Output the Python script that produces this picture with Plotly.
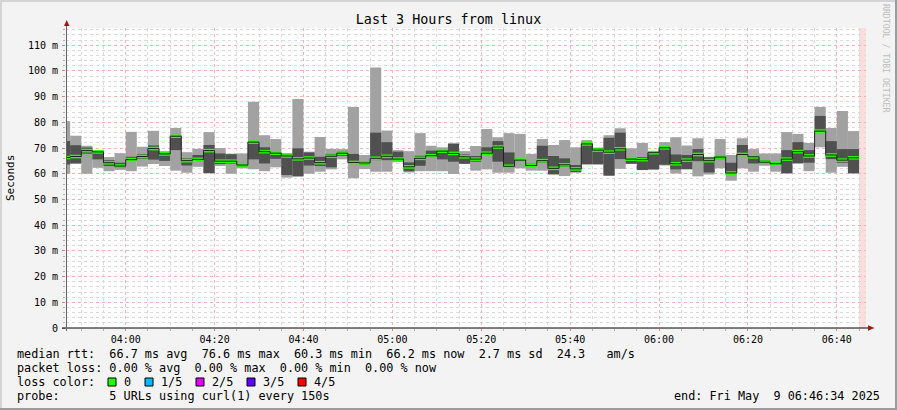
import pandas as pd
import plotly.graph_objects as go

# ---------------- data (ms) ----------------
ping_min = [60, 63.8, 60, 62.3, 61, 61.5, 61, 62.8, 63.8, 63, 61.2, 60.4, 62.7, 60.1, 63, 60, 62.1, 61.8,
            61, 62.5, 58.5, 58.8, 60, 60.8, 61.7, 65.6, 58.3, 61.8, 60.8, 60.8, 64.5, 60.5, 61, 61, 61, 59.9,
            63.8, 61.2, 61.7, 60.4, 60.4, 62.1, 61.2, 61.2, 59.7, 59.1, 60.5, 63.6, 63.6, 59.2, 61.9, 63.8,
            61.4, 61.6, 63.2, 60.1, 61.7, 59, 59.7, 62.1, 57.3, 62.1, 60.8, 63.1, 60.8, 60.1, 64, 61, 70.3,
            60.4, 62.7, 60.1]
ping_p1 = [63.6, 64.1, 67.8, 65.6, 63, 62.2, 65, 65.8, 65.5, 65, 69.2, 63.2, 65.2, 60.3, 63.8, 64, 63.0, 65.6,
           64, 65.8, 59.5, 59.1, 63.2, 63, 62.5, 67, 64, 63.4, 65.3, 65.3, 65.1, 61, 63.1, 66.6, 65.6, 64.7,
           63.9, 64.7, 67.7, 64.7, 62.5, 64.9, 62.7, 64.4, 59.8, 62.7, 60.6, 63.7, 63.7, 59.3, 65.7, 63.9,
           61.5, 61.7, 63.5, 61.7, 61.8, 64.9, 60.5, 65.7, 59.9, 67, 64, 63.8, 63.4, 60.2, 64.1, 64.3, 76.4,
           65.7, 64.3, 60.2]
ping_median = [66.3, 66.7, 69.0, 68.5, 64.3, 63.0, 65.5, 66.7, 69.8, 67.7, 74.6, 65.1, 65.6, 69.0, 64.9, 64.9,
               63.4, 72.3, 68.6, 68.0, 66.9, 65.8, 66.1, 64.3, 66.8, 68.0, 64.4, 64.2, 66.0, 66.8, 65.7, 62.7,
               66.0, 67.0, 68.8, 67.9, 66.6, 65.7, 68.0, 70.4, 62.9, 65.3, 63.2, 65.1, 62.1, 63.5, 61.9, 71.6,
               69.2, 68.4, 69.7, 65.7, 65.5, 68.2, 70.1, 63.9, 65.3, 67.5, 65.1, 66.5, 60.3, 67.5, 66.6, 64.5,
               63.9, 65.7, 68.6, 66.9, 76.6, 67.3, 65.3, 66.2]
ping_p3 = [72.7, 71.1, 70.2, 69.0, 65.3, 64.3, 66.6, 67.6, 71, 68.2, 75, 66, 67.3, 71.2, 67.9, 67.6, 63.7, 72.6,
           70.3, 68.2, 67.7, 69.9, 68.3, 66.6, 67.7, 68.6, 67.7, 64.9, 76, 72.3, 68.6, 64.4, 67, 69, 69.2, 71.6,
           67.5, 66.9, 70.3, 72.7, 68.3, 65.7, 63.9, 70.9, 66.9, 66, 63.4, 72.2, 70.0, 74, 76, 65.8, 66.5,
           68.5, 70.8, 67.5, 67.3, 69.6, 66.4, 67, 64.3, 71.2, 67.3, 65.3, 64.4, 69.2, 72.3, 69.2, 82.5,
           72.7, 69.6, 69.6]
ping_max = [80.5, 74.8, 70.9, 69.2, 66.5, 68, 76.3, 70.5, 76.7, 68.8, 77.8, 68.4, 69.7, 76.2, 70, 67.8, 67.9, 88,
            75, 73.5, 68, 89.1, 68.6, 74.3, 69.7, 69.6, 86, 67.3, 101.3, 76.8, 69.2, 68.8, 75.8, 70.9, 70.3, 72,
            68.8, 70.8, 77.4, 74.2, 75.8, 75.5, 67.7, 73.5, 71.2, 73.1, 70.3, 73.1, 70.2, 75, 77.7, 69.9, 72,
            68.6, 72.3, 74.2, 71, 73.8, 66.6, 73.5, 67.3, 73.8, 69.6, 67.9, 67.9, 76.2, 75.5, 72, 86, 77.8,
            84.4, 76.6]
loss = [0] * len(ping_median)

loss_labels = ["0", "1/5", "2/5", "3/5", "4/5"]
loss_colors = ["#26ff00", "#00b8ff", "#dd00ff", "#5e00ff", "#ff0000"]

y_tickvals = [0, 10, 20, 30, 40, 50, 60, 70, 80, 90, 100, 110]
y_ticktext = ["0", "10 m", "20 m", "30 m", "40 m", "50 m", "60 m", "70 m", "80 m", "90 m", "100 m", "110 m"]

first_step = "2025-05-09 03:45:00"
step_s = 150
end_time = "2025-05-09 06:46:34"
title = "Last 3 Hours from linux"
legend_lines = [
    "median rtt:  66.7 ms avg  76.6 ms max  60.3 ms min  66.2 ms now  2.7 ms sd  24.3   am/s",
    "packet loss: 0.00 % avg  0.00 % max  0.00 % min  0.00 % now",
]
probe_line = "probe:       5 URLs using curl(1) every 150s"
end_line = "end: Fri May  9 06:46:34 2025"

# ---------------- layout geometry ----------------
FW, FH = 897, 410
L, T, W, H = 66, 28, 800, 300


def PX(x):
    return (x - L) / W


def PY(y):
    return (T + H - y) / H


def nb(s):
    return s.replace(" ", "\u00a0")


n = len(ping_median)
starts = pd.date_range(first_step, periods=n, freq=f"{step_s}s")
centers = starts + pd.Timedelta(seconds=step_s / 2)
last_end = starts[-1] + pd.Timedelta(seconds=step_s)
end_ts = pd.Timestamp(end_time)
start_ts = end_ts - pd.Timedelta(hours=3)
width_ms = step_s * 1000
med_half = 0.7

fig = go.Figure()
fig.add_trace(go.Bar(x=centers, base=ping_min, y=[a - b for a, b in zip(ping_max, ping_min)],
                     width=width_ms, marker=dict(color="#a2a2a2", line=dict(width=0)), hoverinfo="skip"))
fig.add_trace(go.Bar(x=centers, base=ping_p1, y=[a - b for a, b in zip(ping_p3, ping_p1)],
                     width=width_ms, marker=dict(color="#505050", line=dict(width=0)), hoverinfo="skip"))
fig.add_trace(go.Scatter(x=list(starts) + [last_end], y=ping_median + [ping_median[-1]], mode="lines",
                         line=dict(shape="hv", color="#202020", width=1), hoverinfo="skip"))
fig.add_trace(go.Bar(x=centers, base=[m - med_half for m in ping_median], y=[2 * med_half] * n, width=width_ms,
                     marker=dict(color=[loss_colors[l] for l in loss], line=dict(width=0)), hoverinfo="skip"))

mono = "DejaVu Sans Mono"
shapes = []
# unknown (no data yet) region
shapes.append(dict(type="rect", xref="x", yref="paper", x0=last_end, x1=end_ts, y0=0, y1=1,
                   fillcolor="#ffdddd", line=dict(width=0), layer="below"))
# axis lines + arrows
shapes.append(dict(type="line", xref="paper", yref="paper", x0=PX(62), x1=PX(870), y0=PY(328), y1=PY(328),
                   line=dict(color="#000000", width=1)))
shapes.append(dict(type="line", xref="paper", yref="paper", x0=PX(66.5), x1=PX(66.5), y0=PY(331), y1=PY(24),
                   line=dict(color="#666666", width=1)))
shapes.append(dict(type="path", xref="paper", yref="paper",
                   path=f"M {PX(64)} {PY(26)} L {PX(69.5)} {PY(26)} L {PX(66.7)} {PY(20)} Z",
                   fillcolor="#a01818", line=dict(width=0)))
shapes.append(dict(type="path", xref="paper", yref="paper",
                   path=f"M {PX(868)} {PY(325.3)} L {PX(868)} {PY(330.8)} L {PX(874.5)} {PY(328)} Z",
                   fillcolor="#a01818", line=dict(width=0)))
# frame
shapes.append(dict(type="rect", xref="paper", yref="paper", x0=PX(0), x1=PX(FW), y0=PY(0), y1=PY(2),
                   fillcolor="#d4d4d4", line=dict(width=0)))
shapes.append(dict(type="rect", xref="paper", yref="paper", x0=PX(0), x1=PX(2), y0=PY(0), y1=PY(FH),
                   fillcolor="#d4d4d4", line=dict(width=0)))
shapes.append(dict(type="rect", xref="paper", yref="paper", x0=PX(0), x1=PX(FW), y0=PY(FH - 2), y1=PY(FH),
                   fillcolor="#9c9c9c", line=dict(width=0)))
shapes.append(dict(type="rect", xref="paper", yref="paper", x0=PX(FW - 2), x1=PX(FW), y0=PY(0), y1=PY(FH),
                   fillcolor="#9c9c9c", line=dict(width=0)))

annotations = []
fs = 11.8
for i, line in enumerate(legend_lines):
    annotations.append(dict(xref="paper", yref="paper", x=PX(15), y=PY(354 + 14 * i), xanchor="left",
                            yanchor="middle", text=nb(line), showarrow=False,
                            font=dict(family=mono, size=fs, color="#000000")))
annotations.append(dict(xref="paper", yref="paper", x=PX(15), y=PY(382), xanchor="left", yanchor="middle",
                        text=nb("loss color:"), showarrow=False, font=dict(family=mono, size=fs, color="#000")))
box_x = [108, 145, 196, 247, 298]
for bx, lab, col in zip(box_x, loss_labels, loss_colors):
    shapes.append(dict(type="rect", xref="paper", yref="paper", x0=PX(bx), x1=PX(bx + 8),
                       y0=PY(378), y1=PY(386), fillcolor=col, line=dict(color="#000000", width=1)))
    annotations.append(dict(xref="paper", yref="paper", x=PX(bx + 14), y=PY(382), xanchor="left",
                            yanchor="middle", text=lab, showarrow=False,
                            font=dict(family=mono, size=fs, color="#000")))
annotations.append(dict(xref="paper", yref="paper", x=PX(15), y=PY(396), xanchor="left", yanchor="middle",
                        text=nb(probe_line), showarrow=False, font=dict(family=mono, size=fs, color="#000")))
annotations.append(dict(xref="paper", yref="paper", x=PX(882), y=PY(396), xanchor="right", yanchor="middle",
                        text=nb(end_line), showarrow=False, font=dict(family=mono, size=fs, color="#000")))
annotations.append(dict(xref="paper", yref="paper", x=PX(10), y=PY(178), xanchor="center", yanchor="middle",
                        text="Seconds", textangle=-90, showarrow=False,
                        font=dict(family=mono, size=11, color="#000")))
annotations.append(dict(xref="paper", yref="paper", x=PX(886), y=PY(59), xanchor="center", yanchor="middle",
                        text=nb("RRDTOOL / TOBI OETIKER"), textangle=90, showarrow=False, borderpad=0,
                        font=dict(family=mono, size=8.2, color="#bdbdbd")))

fig.update_layout(
    width=FW, height=FH,
    margin=dict(l=L, r=FW - L - W, t=T, b=FH - T - H, pad=0, autoexpand=False),
    paper_bgcolor="#f3f3f3", plot_bgcolor="#ffffff",
    barmode="overlay", showlegend=False,
    title=dict(text=title, x=0.5, xref="container", xanchor="center", y=1 - 19.5 / FH, yref="container",
               yanchor="middle", font=dict(family=mono, size=13.4, color="#000"), automargin=False),
    font=dict(family=mono, color="#000"),
    shapes=shapes, annotations=annotations,
)
fig.update_xaxes(
    type="date", range=[start_ts, end_ts], tick0="2025-05-09 04:00:00", dtick=20 * 60 * 1000,
    tickformat="%H:%M", showgrid=True, gridcolor="#f4b4b4", griddash="dot", gridwidth=1, automargin=False,
    ticks="outside", ticklen=2, tickcolor="#e08080", showline=False, zeroline=False,
    tickfont=dict(family=mono, size=10, color="#000"),
    minor=dict(dtick=5 * 60 * 1000, tick0="2025-05-09 04:00:00", showgrid=True, gridcolor="#dadada",
               griddash="dot", ticks="outside", ticklen=2, tickcolor="#b0b0b0"),
)
fig.update_yaxes(
    range=[0, 116.7], tickvals=y_tickvals, ticktext=y_ticktext, showgrid=True, gridcolor="#f4b4b4",
    griddash="dot", ticks="outside", ticklen=3, tickcolor="#e08080", showline=False, zeroline=False,
    tickfont=dict(family=mono, size=10, color="#000"), ticklabelstandoff=2, automargin=False,
    minor=dict(dtick=2, showgrid=True, gridcolor="#dadada", griddash="dot", ticks="outside", ticklen=2,
               tickcolor="#b0b0b0"),
)

fig.write_html("out.html", config={"displayModeBar": False},
               post_script="document.body.style.margin='0';document.body.style.overflow='hidden';")
